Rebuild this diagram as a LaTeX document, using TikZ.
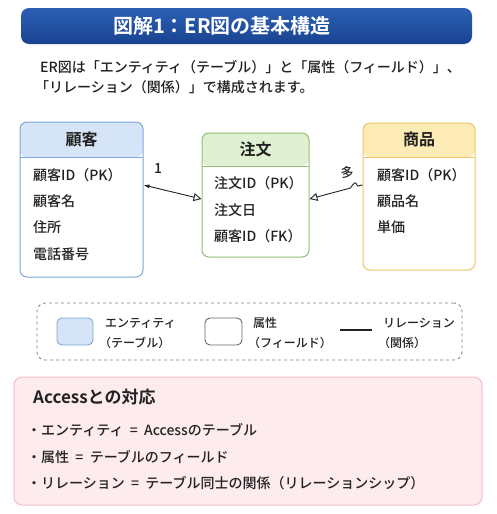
\documentclass[tikz,border=0pt]{standalone}
\usepackage{fontspec}
\setmainfont{Noto Sans CJK JP Medium}[BoldFont={Noto Sans CJK JP Bold}]
\usetikzlibrary{arrows.meta,positioning,calc}

\definecolor{bartop}{HTML}{2C60B4}
\definecolor{barbot}{HTML}{1A4391}
\definecolor{inkcol}{HTML}{222222}
\definecolor{custbd}{HTML}{7FA7DA}
\definecolor{custhd}{HTML}{D5E5F7}
\definecolor{ordbd}{HTML}{93BF72}
\definecolor{ordhd}{HTML}{E0F0D3}
\definecolor{prodbd}{HTML}{EEC665}
\definecolor{prodhd}{HTML}{FCEBB5}
\definecolor{accfill}{HTML}{FDEBEE}
\definecolor{accbd}{HTML}{F3BFC6}

\begin{document}
\begin{tikzpicture}[x=1pt, y=-1pt, text=inkcol,
		entity/.style n args={3}{draw=#1, line width=1pt, fill=white, rounded corners=7pt,
			path picture={\fill[#2] (path picture bounding box.north west) rectangle ([yshift=-#3]path picture bounding box.north east);
				\draw[#1, line width=1pt] ([yshift=-#3]path picture bounding box.north west) -- ([yshift=-#3]path picture bounding box.north east);}},
		hdtext/.style={font=\fontsize{16}{18}\selectfont\bfseries, inner sep=0pt},
		row/.style={anchor=west, font=\fontsize{14}{16}\selectfont, inner sep=0pt},
		small/.style={anchor=west, font=\fontsize{12}{14}\selectfont, inner sep=0pt},
		body/.style={anchor=west, font=\fontsize{14}{16}\selectfont, inner sep=0pt},
		conn/.style={line width=0.9pt, inkcol}]

		\useasboundingbox (0,0) rectangle (497,514);
		\fill[white] (0,0) rectangle (497,514);

		% title
		\node[minimum width=451, minimum height=36, rounded corners=8pt, top color=bartop, bottom color=barbot, draw=none] (bar) at (246.5,26) {};
		\node[text=white, font=\fontsize{20}{22}\selectfont\bfseries] (title) at (222,26) {図解1：ER図の基本構造};
		\node[body] (desc1) at (40,67) {ER図は「エンティティ（テーブル）」と「属性（フィールド）」、};
		\node[body] (desc2) at (35,87) {「リレーション（関係）」で構成されます。};

		% entities
		\node[entity={custbd}{custhd}{35pt}, minimum width=123, minimum height=155] (kokyaku) at (81.5,199.5) {};
		\node[entity={ordbd}{ordhd}{33pt}, minimum width=107, minimum height=124] (chumon) at (255.5,195) {};
		\node[entity={prodbd}{prodhd}{34pt}, minimum width=112, minimum height=147] (shohin) at (419,196.5) {};

		\node[hdtext] (kokyakuhd) at ([yshift=-17.5pt]kokyaku.north) {顧客};
		\node[hdtext] (chumonhd) at ([yshift=-16.5pt]chumon.north) {注文};
		\node[hdtext] (shohinhd) at ([yshift=-17pt]shohin.north) {商品};

		\node[row] (k1) at (33,175) {顧客ID（PK）};
		\node[row] (k2) at (33,201) {顧客名};
		\node[row] (k3) at (33,227) {住所};
		\node[row] (k4) at (33,254) {電話番号};

		\node[row] (c1) at (214,183) {注文ID（PK）};
		\node[row] (c2) at (214,210) {注文日};
		\node[row] (c3) at (214,236) {顧客ID（FK）};

		\node[row] (s1) at (377,175) {顧客ID（PK）};
		\node[row] (s2) at (377,201) {顧品名};
		\node[row] (s3) at (377,227) {単価};

		% relations
		\draw[conn, {Latex[length=6pt,width=4pt]}-{Triangle[open,length=8pt,width=8pt]}] ([yshift=14.5pt]kokyaku.east) -- ([yshift=-4pt]chumon.west);
		\draw[conn, -{Triangle[open,length=8pt,width=8pt]}] ([yshift=11.5pt]shohin.west) -- ++(-5,1) .. controls ++(-2,-5) and ++(4,-6) .. ++(-7,2) -- ([yshift=-4pt]chumon.east);
		\node[font=\fontsize{14}{16}\selectfont] (one) at (158,168) {1};
		\node[font=\fontsize{13}{15}\selectfont] (many) at (347,173) {多};

		% legend
		\node[draw=gray, dashed, line width=0.8pt, rounded corners=8pt, minimum width=425, minimum height=57] (legend) at (249.5,331.5) {};
		\node[draw=custbd, fill=custhd, line width=0.9pt, rounded corners=5pt, minimum width=36, minimum height=27] (entsw) at (75,331.5) {};
		\node[draw=gray!80!black, fill=white, line width=0.9pt, rounded corners=5pt, minimum width=37, minimum height=27] (attsw) at (223.5,331.5) {};
		\coordinate (rel1) at (340,330);
		\coordinate (rel2) at (372,330);
		\draw[line width=1.2pt, inkcol] (rel1) -- (rel2);

		\node[small] (ent1) at (105,323) {エンティティ};
		\node[small] (ent2) at (99,343) {（テーブル）};
		\node[small] (att1) at (253,323) {属性};
		\node[small] (att2) at (248,343) {（フィールド）};
		\node[small] (rel1t) at (383,323) {リレーション};
		\node[small] (rel2t) at (378,343) {（関係）};

		% Access box
		\node[draw=accbd, fill=accfill, line width=1pt, rounded corners=8pt, minimum width=468, minimum height=128] (access) at (248,441) {};
		\node[anchor=west, inner sep=0pt, font=\fontsize{17}{19}\selectfont\bfseries] (acctitle) at (33,397) {Accessとの対応};
		\node[row] (acc1) at (27,430) {・エンティティ\ \ =\ \ Accessのテーブル};
		\node[row] (acc2) at (27,457) {・属性\ \ =\ \ テーブルのフィールド};
		\node[row] (acc3) at (27,483) {・リレーション\ \ =\ \ テーブル同士の関係（リレーションシップ）};
	\end{tikzpicture}
\end{document}
